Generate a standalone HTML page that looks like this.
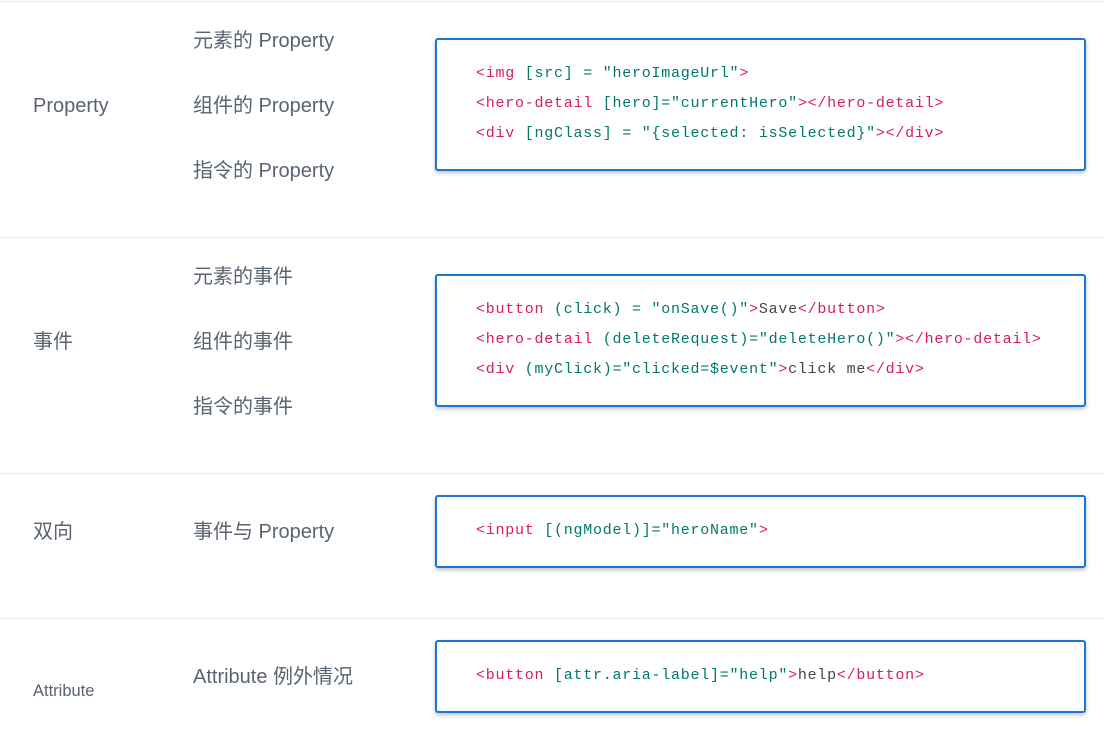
<!DOCTYPE html>
<html><head><meta charset="utf-8"><style>
body{margin:0;width:1104px;height:731px;background:#fff;position:relative;overflow:hidden;font-family:"Liberation Sans","Noto Sans CJK SC",sans-serif;color:#5a6470}
.l{position:absolute;font-size:20px;line-height:24px;white-space:nowrap}
.hr{position:absolute;left:0;width:1104px;height:1px;background:#e8e8e8}
.box{position:absolute;left:435px;width:651px;border:2px solid #1976d2;border-radius:3px;box-shadow:0 2px 4px rgba(0,0,0,.25);box-sizing:border-box}
.c{position:absolute;left:476px;font-family:"Liberation Mono",monospace;font-size:15px;letter-spacing:0.75px;line-height:20px;white-space:pre;color:#444}
.t{color:#d81b60}.a{color:#00796b}
</style></head><body>
<div class="hr" style="top:1px"></div>
<div class="hr" style="top:237px"></div>
<div class="hr" style="top:473px"></div>
<div class="hr" style="top:618px"></div>

<div class="l" style="left:33px;top:94px">Property</div>
<div class="l" style="left:193px;top:29px">元素的 Property</div>
<div class="l" style="left:193px;top:94px">组件的 Property</div>
<div class="l" style="left:193px;top:159px">指令的 Property</div>
<div class="box" style="top:38px;height:133px"></div>
<div class="c" style="top:64px"><span class="t">&lt;img</span> <span class="a">[src] = "heroImageUrl"</span><span class="t">&gt;</span></div>
<div class="c" style="top:94px"><span class="t">&lt;hero-detail</span> <span class="a">[hero]="currentHero"</span><span class="t">&gt;&lt;/hero-detail&gt;</span></div>
<div class="c" style="top:124px"><span class="t">&lt;div</span> <span class="a">[ngClass] = "{selected: isSelected}"</span><span class="t">&gt;&lt;/div&gt;</span></div>

<div class="l" style="left:33px;top:330px">事件</div>
<div class="l" style="left:193px;top:265px">元素的事件</div>
<div class="l" style="left:193px;top:330px">组件的事件</div>
<div class="l" style="left:193px;top:395px">指令的事件</div>
<div class="box" style="top:274px;height:133px"></div>
<div class="c" style="top:300px"><span class="t">&lt;button</span> <span class="a">(click) = "onSave()"</span><span class="t">&gt;</span>Save<span class="t">&lt;/button&gt;</span></div>
<div class="c" style="top:330px"><span class="t">&lt;hero-detail</span> <span class="a">(deleteRequest)="deleteHero()"</span><span class="t">&gt;&lt;/hero-detail&gt;</span></div>
<div class="c" style="top:360px"><span class="t">&lt;div</span> <span class="a">(myClick)="clicked=$event"</span><span class="t">&gt;</span>click me<span class="t">&lt;/div&gt;</span></div>

<div class="l" style="left:33px;top:520px">双向</div>
<div class="l" style="left:193px;top:520px">事件与 Property</div>
<div class="box" style="top:495px;height:73px"></div>
<div class="c" style="top:521px"><span class="t">&lt;input</span> <span class="a">[(ngModel)]="heroName"</span><span class="t">&gt;</span></div>

<div class="l" style="left:33px;top:681px;font-size:16.5px;line-height:20px">Attribute</div>
<div class="l" style="left:193px;top:665px">Attribute 例外情况</div>
<div class="box" style="top:640px;height:73px"></div>
<div class="c" style="top:666px"><span class="t">&lt;button</span> <span class="a">[attr.aria-label]="help"</span><span class="t">&gt;</span>help<span class="t">&lt;/button&gt;</span></div>
</body></html>
